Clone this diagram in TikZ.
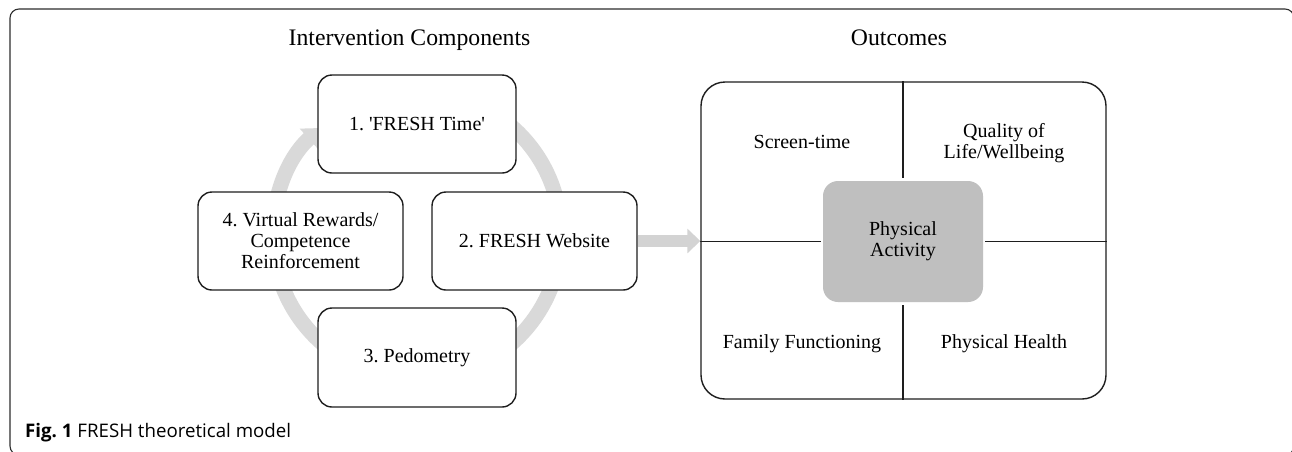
\documentclass[tikz,border=0pt]{standalone}
\usepackage{fontspec}
\setmainfont{Liberation Serif}
\newfontfamily\capfont{Open Sans}
\usetikzlibrary{arrows.meta}
\definecolor{arcgray}{HTML}{D9D9D9}
\definecolor{arrgray}{HTML}{D3D3D3}
\definecolor{pagray}{HTML}{BFBFBF}
\definecolor{framegray}{HTML}{2E2E2E}
\definecolor{boxline}{HTML}{1E1E1E}
\begin{document}
\frenchspacing
\begin{tikzpicture}[x=1pt,y=-1pt,
  comp/.style={draw=boxline, line width=1.4pt, fill=white, rounded corners=14pt, align=center, font=\fontsize{20}{21}\selectfont, inner sep=0pt},
  lbl/.style={align=center, font=\fontsize{20}{21}\selectfont, inner sep=0pt},
  title/.style={font=\fontsize{23.7}{26}\selectfont, inner sep=0pt, anchor=base},
  divider/.style={draw=boxline, line width=1.4pt},
  ringarrow/.style={draw=arcgray, line width=15pt, -{Triangle[width=26pt,length=16pt]}},
  bigarrow/.style={draw=arrgray, line width=11.6pt, -{Triangle[width=24pt,length=13pt]}}]
\useasboundingbox (0,0) rectangle (1292,451);
\fill[white] (0,0) rectangle (1292,451);
\draw[framegray, line width=1.1pt, rounded corners=9pt] (10,9) rectangle (1294,455);

\node[title] (t1) at (409.5,45) {Intervention Components};
\node[title] (t2) at (899,45) {Outcomes};

% cycle ring
\coordinate (ringc) at (417,235);
\draw[ringarrow] (ringc) ++(-100:144) arc[start angle=-100, end angle=228, radius=144];

\node[comp, minimum width=198pt, minimum height=98pt] (b1) at (417,124) {1. \textquotesingle FRESH Time\textquotesingle};
\node[comp, minimum width=205pt, minimum height=98pt] (b4) at (300.5,241) {4. Virtual Rewards/\\Competence\\Reinforcement};
\node[comp, minimum width=205pt, minimum height=98pt] (b2) at (534.5,241) {2. FRESH Website};
\node[comp, minimum width=198pt, minimum height=99pt] (b3) at (417,357.5) {3. Pedometry};

% outcomes panel
\node[draw=boxline, line width=1.4pt, rounded corners=24pt, minimum width=405pt, minimum height=317pt, inner sep=0pt] (panel) at (903.5,240.5) {};
\node[lbl, fill=pagray, rounded corners=15pt, minimum width=160pt, minimum height=121pt] (pa) at (903,241.5) {Physical\\Activity};
\draw[divider, shorten >=3pt] (pa.north |- panel.north) -- (pa.north);
\draw[divider, shorten <=3pt] (pa.south) -- (pa.south |- panel.south);
\draw[divider, shorten >=2pt] (panel.west |- pa.west) -- (pa.west);
\draw[divider, shorten <=2pt] (pa.east) -- (pa.east -| panel.east);

\node[lbl, anchor=base] (st) at (802,148) {Screen-time};
\node[lbl] (ql) at (1004,143) {Quality of\\Life/Wellbeing};
\node[lbl, anchor=base] (ff) at (802,348) {Family Functioning};
\node[lbl, anchor=base] (ph) at (1004,348) {Physical Health};

% arrow to outcomes
\draw[bigarrow] (b2.east) -- (b2.east -| panel.west);

\node[anchor=base west, inner sep=0pt, font=\capfont\fontsize{18.7}{21}\selectfont] (cap) at (25,437) {\textbf{Fig. 1} FRESH theoretical model};
\end{tikzpicture}
\end{document}
